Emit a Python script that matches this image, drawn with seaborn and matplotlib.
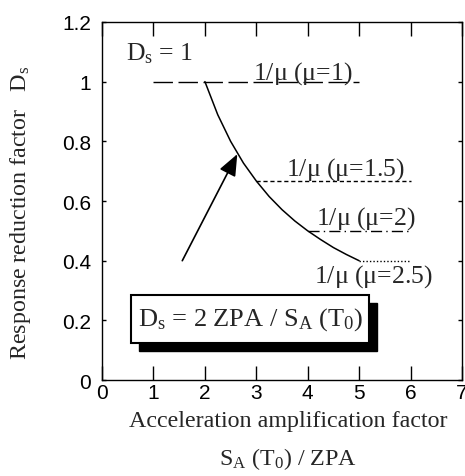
import matplotlib
matplotlib.use("Agg")
import matplotlib.pyplot as plt
import seaborn as sns
import pandas as pd
from matplotlib.patches import Rectangle

sns.set_theme(style="ticks")
plt.rcParams['font.family'] = ['Liberation Serif', 'DejaVu Serif']
plt.rcParams['mathtext.fontset'] = 'custom'
plt.rcParams['mathtext.rm'] = 'Liberation Serif'
plt.rcParams['mathtext.it'] = 'Liberation Serif'

# Data
curve_x = [2.0, 2.25, 2.5, 2.75, 3.0, 3.25, 3.5, 3.75, 4.0, 4.25, 4.5, 4.75, 5.0]
curve_y = [1.0, 0.889, 0.8, 0.727, 0.667, 0.615, 0.571, 0.533, 0.5, 0.471, 0.444, 0.421, 0.4]
mu_labels = ["1", "1.5", "2", "2.5"]
mu_levels = [1.0, 0.667, 0.5, 0.4]
mu_x_start = [1.0, 3.0, 4.0, 5.0]
mu_x_end = [5.0, 6.0, 6.0, 6.0]
x_ticks = [0, 1, 2, 3, 4, 5, 6, 7]
y_ticks = [0, 0.2, 0.4, 0.6, 0.8, 1.0, 1.2]
y_tick_labels = ["0", "0.2", "0.4", "0.6", "0.8", "1", "1.2"]

fig = plt.figure(figsize=(4.65, 4.77), dpi=100)
ax = fig.add_axes([0.2195, 0.201, 0.774, 0.751])

sns.lineplot(x=curve_x, y=curve_y, ax=ax, color="black", linewidth=1.1, sort=False)

styles = [(0, (14, 4)), (0, (3, 2)), (0, (8, 3, 1, 3)), (0, (1, 1.5))]
for lev, x0, x1, ls in zip(mu_levels, mu_x_start, mu_x_end, styles):
    df = pd.DataFrame({"x": [x0, x1], "y": [lev, lev]})
    sns.lineplot(data=df, x="x", y="y", ax=ax, color="black", linewidth=1.0, linestyle=ls)

ax.set_xlim(0, 7)
ax.set_ylim(0, 1.2)
ax.set_xticks(x_ticks)
ax.set_yticks(y_ticks)
ax.set_yticklabels(y_tick_labels)
ax.tick_params(direction="in", width=1, top=True, right=True,
               labelsize=15, color="black", labelcolor="black")
ax.tick_params(axis="x", length=10, pad=2)
ax.tick_params(axis="y", length=3, pad=8)
for lab in ax.get_xticklabels() + ax.get_yticklabels():
    lab.set_family("Liberation Sans")
for s in ax.spines.values():
    s.set_color("black")
    s.set_linewidth(1.0)
ax.set_xlabel("")
ax.set_ylabel("")

fs = 18.5
mu = r"$\mathrm{\mu}$"
ax.text(0.47, 1.075, r"$\mathrm{D_s}$ = 1", fontsize=fs, va="baseline")
ax.text(2.93, 1.01, "1/" + mu + " (" + mu + "=" + mu_labels[0] + ")", fontsize=fs, va="baseline")
ax.text(3.58, 0.69, "1/" + mu + " (" + mu + "=" + mu_labels[1] + ")", fontsize=fs, va="baseline")
ax.text(4.17, 0.523, "1/" + mu + " (" + mu + "=" + mu_labels[2] + ")", fontsize=fs, va="baseline")
ax.text(4.13, 0.33, "1/" + mu + " (" + mu + "=" + mu_labels[3] + ")", fontsize=fs, va="baseline")

ax.annotate("", xy=(2.63, 0.757), xytext=(1.56, 0.4),
            arrowprops=dict(arrowstyle="-|>,head_length=1.1,head_width=0.45",
                            color="black", lw=1.2, shrinkA=0, shrinkB=0))

# box with shadow
ax.add_patch(Rectangle((0.72, 0.097), 4.63, 0.161, facecolor="black",
                       edgecolor="black", zorder=4))
ax.add_patch(Rectangle((0.57, 0.125), 4.63, 0.161, facecolor="white",
                       edgecolor="black", linewidth=1.5, zorder=5))
ax.text(2.885, 0.205, r"$\mathrm{D_s}$ = 2 ZPA / $\mathrm{S_A}$ ($\mathrm{T_0}$)",
        fontsize=19, ha="center", va="center", zorder=6)

fig.text(0.62, 0.117, "Acceleration amplification factor", fontsize=17.3,
         ha="center", va="center")
fig.text(0.62, 0.038, r"$\mathrm{S_A}$ ($\mathrm{T_0}$) / ZPA", fontsize=17.3,
         ha="center", va="center")
fig.text(0.045, 0.553, r"Response reduction factor   $\mathrm{D_s}$", fontsize=17.3,
         ha="center", va="center", rotation=90)

fig.savefig("out.png", dpi=100)
